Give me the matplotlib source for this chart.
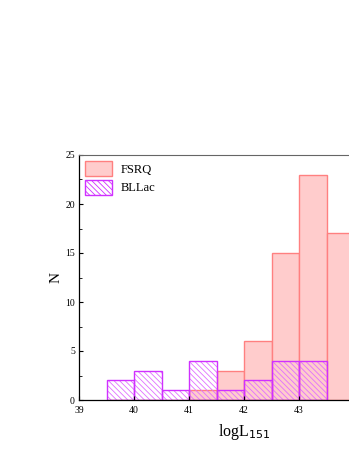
import matplotlib
matplotlib.use("Agg")
import matplotlib.pyplot as plt
import matplotlib.patches as mpatches
import numpy as np

plt.rcParams['font.family'] = ['Liberation Serif', 'DejaVu Serif']
plt.rcParams['hatch.linewidth'] = 0.6

bin_edges = [39.5, 40.0, 40.5, 41.0, 41.5, 42.0, 42.5, 43.0, 43.5, 44.0]
fsrq_counts = [0, 0, 0, 1, 3, 6, 15, 23, 17]
bllac_counts = [2, 3, 1, 4, 1, 2, 4, 4, 0]
x_tick_labels = ['39', '40', '41', '42', '43']

fig = plt.figure(figsize=(3.49, 4.51), dpi=100)
ax = fig.add_axes([79/349, 51/451, 330/349, 245/451])

left = np.array(bin_edges[:-1])
widths = np.diff(bin_edges)

ax.bar(left, fsrq_counts, width=widths, align='edge',
       color='#ffcccc', edgecolor='#ff8080', linewidth=1.0)
ax.bar(left, bllac_counts, width=widths, align='edge',
       facecolor='none', edgecolor='#e070ff', hatch='\\\\\\\\\\\\', linewidth=0)
for l, w, c in zip(left, widths, bllac_counts):
    if c > 0:
        ax.bar(l, c, width=w, align='edge', facecolor='none', edgecolor='#d030ff', linewidth=1.0)

ax.set_xlim(39, 45)
ax.set_ylim(0, 25)
ax.set_xticks([39, 40, 41, 42, 43])
ax.set_xticklabels(x_tick_labels)
ax.set_yticks([0, 5, 10, 15, 20, 25])
ax.set_yticks(np.arange(0, 25.1, 2.5), minor=True)
ax.tick_params(direction='in', labelsize=7, length=3, width=0.8)
ax.tick_params(axis='x', pad=4)
ax.tick_params(axis='y', pad=3)
ax.tick_params(which='minor', direction='in', length=2, width=0.6)
ax.tick_params(axis='x', which='minor', bottom=False)
ax.spines['top'].set_color('#666666')
ax.spines['left'].set_linewidth(0.9)
ax.spines['bottom'].set_linewidth(0.9)

ax.set_ylabel('N', fontsize=11, labelpad=2)
ax.set_xlabel('logL$_{151}$', fontsize=11.5, labelpad=5)

h_fsrq = mpatches.Patch(facecolor='#ffcccc', edgecolor='#ff8080', linewidth=1.0, label='FSRQ')
h_bl = mpatches.Patch(facecolor='white', edgecolor='#d030ff', hatch='\\\\\\\\\\\\', linewidth=1.0, label='BLLac')
ax.legend(handles=[h_fsrq, h_bl], loc='upper left', frameon=False, fontsize=9,
          handlelength=2.1, handleheight=1.4, handletextpad=0.7,
          borderaxespad=0.2, borderpad=0.3, labelspacing=0.35)

fig.savefig('out.png', dpi=100)
